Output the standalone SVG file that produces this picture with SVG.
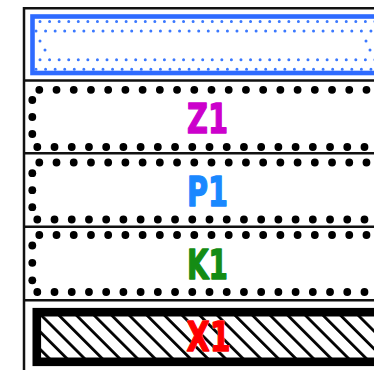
<svg xmlns="http://www.w3.org/2000/svg" width="374" height="370" viewBox="0 0 374 370">
<style>
.sep{stroke:#111;stroke-width:2.5;fill:none}
.bdot{stroke:#000;stroke-width:7.8;stroke-linecap:round;stroke-dasharray:0 17.22;fill:none}
.bd{fill:#000}
.udot{stroke:#3a78ff;stroke-width:3;stroke-linecap:round;stroke-dasharray:0 9.57;fill:none}
.ud{fill:#3a78ff}
.lbl{font-family:"DejaVu Sans","Liberation Sans",sans-serif;font-weight:bold;font-size:40px;text-anchor:middle;stroke-width:1.4;stroke-linejoin:round}
</style>
<defs>
<pattern id="hatch" patternUnits="userSpaceOnUse" width="12.45" height="12.45" patternTransform="translate(41,317) rotate(-45)">
<rect x="0" y="0" width="2.8" height="12.45" fill="#000"/>
</pattern>
</defs>
<rect width="374" height="370" fill="#fff"/>
<g id="frame">
<line class="sep" x1="24" y1="8.3" x2="380" y2="8.3"/>
<line class="sep" x1="24" y1="7" x2="24" y2="372"/>
<line class="sep" x1="24" y1="80.5" x2="380" y2="80.5"/>
<line class="sep" x1="24" y1="153.3" x2="380" y2="153.3"/>
<line class="sep" x1="24" y1="226.8" x2="380" y2="226.8"/>
<line class="sep" x1="24" y1="300.3" x2="380" y2="300.3"/>
</g>
<g id="connectors"></g>
<g id="header">
<rect x="32.5" y="16.5" width="350" height="56.5" fill="#fff" stroke="#2f6bff" stroke-width="4.6"/>
<line class="udot" x1="40" y1="21.5" x2="380" y2="21.5"/>
<line class="udot" x1="36" y1="31" x2="380" y2="31"/>
<line class="udot" x1="40" y1="59.7" x2="380" y2="59.7"/>
<line class="udot" x1="36" y1="69.2" x2="380" y2="69.2"/>
<circle class="ud" cx="40" cy="41" r="1.5"/>
<circle class="ud" cx="45" cy="50" r="1.5"/>
<circle class="ud" cx="366" cy="41" r="1.5"/>
<circle class="ud" cx="370" cy="50" r="1.5"/>
</g>
<g id="Z1">
<line class="bdot" x1="39.3" y1="89.8" x2="380" y2="89.8"/>
<line class="bdot" x1="37.3" y1="147" x2="380" y2="147"/>
<circle class="bd" cx="32.3" cy="100" r="3.9"/>
<circle class="bd" cx="32.3" cy="117" r="3.9"/>
<circle class="bd" cx="32.3" cy="134" r="3.9"/>
<text class="lbl" x="207.5" y="133.3" fill="#cc00cc" stroke="#cc00cc" textLength="41" lengthAdjust="spacingAndGlyphs">Z1</text>
</g>
<g id="P1">
<line class="bdot" x1="39.3" y1="162.5" x2="380" y2="162.5"/>
<line class="bdot" x1="37.3" y1="219.5" x2="380" y2="219.5"/>
<circle class="bd" cx="32.3" cy="173.2" r="3.9"/>
<circle class="bd" cx="32.3" cy="190.2" r="3.9"/>
<circle class="bd" cx="32.3" cy="207.2" r="3.9"/>
<text class="lbl" x="207.5" y="206" fill="#1a88ff" stroke="#1a88ff" textLength="41" lengthAdjust="spacingAndGlyphs">P1</text>
</g>
<g id="K1">
<line class="bdot" x1="39.3" y1="235" x2="380" y2="235"/>
<line class="bdot" x1="37.3" y1="292" x2="380" y2="292"/>
<circle class="bd" cx="32.3" cy="245.5" r="3.9"/>
<circle class="bd" cx="32.3" cy="262.8" r="3.9"/>
<circle class="bd" cx="32.3" cy="280.3" r="3.9"/>
<text class="lbl" x="207.5" y="279.3" fill="#148c14" stroke="#148c14" textLength="41" lengthAdjust="spacingAndGlyphs">K1</text>
</g>
<g id="X1">
<rect x="36.8" y="312.2" width="341.5" height="49.6" fill="url(#hatch)" stroke="#000" stroke-width="8.6"/>
<text x="208.5" y="351.3" class="lbl" fill="none" stroke="#fff" stroke-width="7" textLength="44" lengthAdjust="spacingAndGlyphs">X1</text>
<text class="lbl" x="208.5" y="351.3" fill="#ff0000" stroke="#ff0000" textLength="44" lengthAdjust="spacingAndGlyphs">X1</text>
</g>
</svg>
